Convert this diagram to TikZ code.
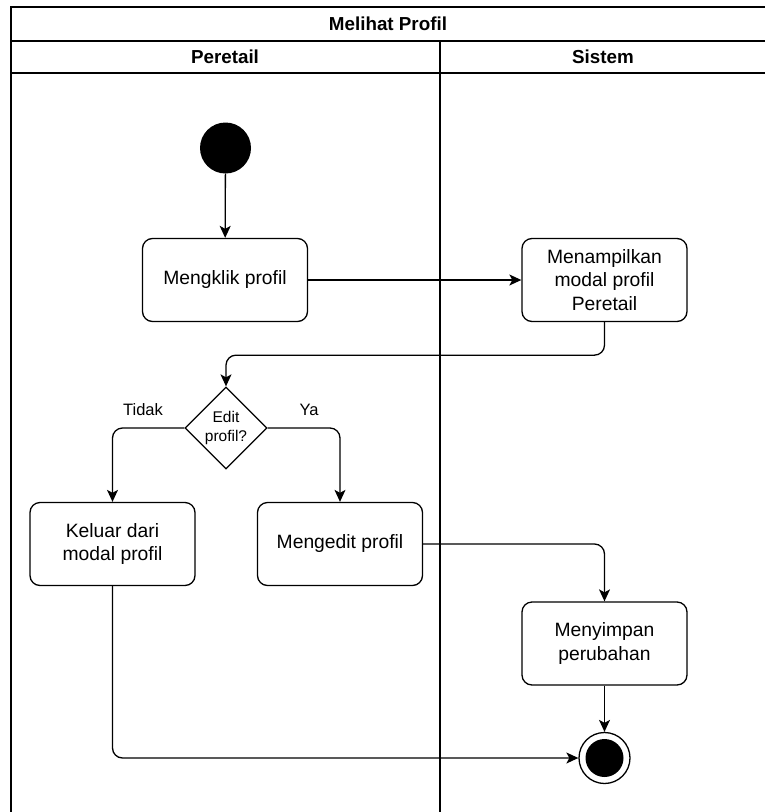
\documentclass[tikz,border=0pt]{standalone}
\usepackage{fontspec}
\setmainfont{Liberation Sans}
\usetikzlibrary{arrows.meta,shapes.geometric}
\tikzset{
  lane/.style={line width=1.4pt,draw=black},
  actbox/.style={draw,line width=1.3pt,rounded corners=10pt,minimum width=165pt,minimum height=83pt,inner sep=0pt,align=center,font=\fontsize{19.3}{23.5}\selectfont},
  flow/.style={line width=1.3pt,rounded corners=10pt,-{Stealth[length=12pt,width=11pt,inset=3pt]}},
  decis/.style={draw,line width=1.3pt,diamond,minimum width=82pt,minimum height=82pt,inner sep=0pt,align=center,font=\fontsize{15.5}{19}\selectfont},
  lbl/.style={font=\fontsize{16.5}{20}\selectfont},
  hdr/.style={font=\bfseries\fontsize{18.8}{22}\selectfont}
}
\begin{document}
\begin{tikzpicture}[x=1pt,y=-1pt]
\useasboundingbox (0,0) rectangle (765,812);
% swimlane frame
\draw[lane] (765,7) -- (11,7) -- (11,812);
\draw[lane] (11,41) -- (765,41);
\draw[lane] (11,73) -- (765,73);
\draw[lane] (440,41) -- (440,812);
\node[hdr] (title) at (388,24) {Melihat Profil};
\node[hdr] (lane1) at (225,57) {Peretail};
\node[hdr] (lane2) at (603,57) {Sistem};
% nodes
\node[circle,fill=black,minimum size=51pt,inner sep=0pt] (start) at (225.5,148) {};
\node[actbox] (klik) at (225,280) {Mengklik profil};
\node[actbox] (tampil) at (604.5,280) {Menampilkan\\modal profil\\Peretail};
\node[decis] (dec) at (226,428) {Edit\\profil?};
\node[actbox] (keluar) at (112.5,544) {Keluar dari\\modal profil};
\node[actbox] (edit) at (340,544) {Mengedit profil};
\node[actbox] (simpan) at (604.5,643.5) {Menyimpan\\perubahan};
\node[circle,draw,line width=1.3pt,fill=white,minimum size=51pt,inner sep=0pt] (end) at (604.5,758) {};
\node[circle,fill=black,minimum size=38pt,inner sep=0pt] (endin) at (604.5,758) {};
% labels
\node[lbl] (tidak) at (143,410) {Tidak};
\node[lbl] (ya) at (309,410) {Ya};
% connectors
\draw[flow] (start) -- (klik);
\draw[flow] (klik) -- (tampil);
\draw[flow] (tampil.south) -- ++(0,33) -| (dec.north);
\draw[flow] (dec.west) -| (keluar.north);
\draw[flow] (dec.east) -| (edit.north);
\draw[flow] (edit.east) -| (simpan.north);
\draw[flow] (simpan) -- (end);
\draw[flow] (keluar.south) |- (end.west);
\end{tikzpicture}
\end{document}
